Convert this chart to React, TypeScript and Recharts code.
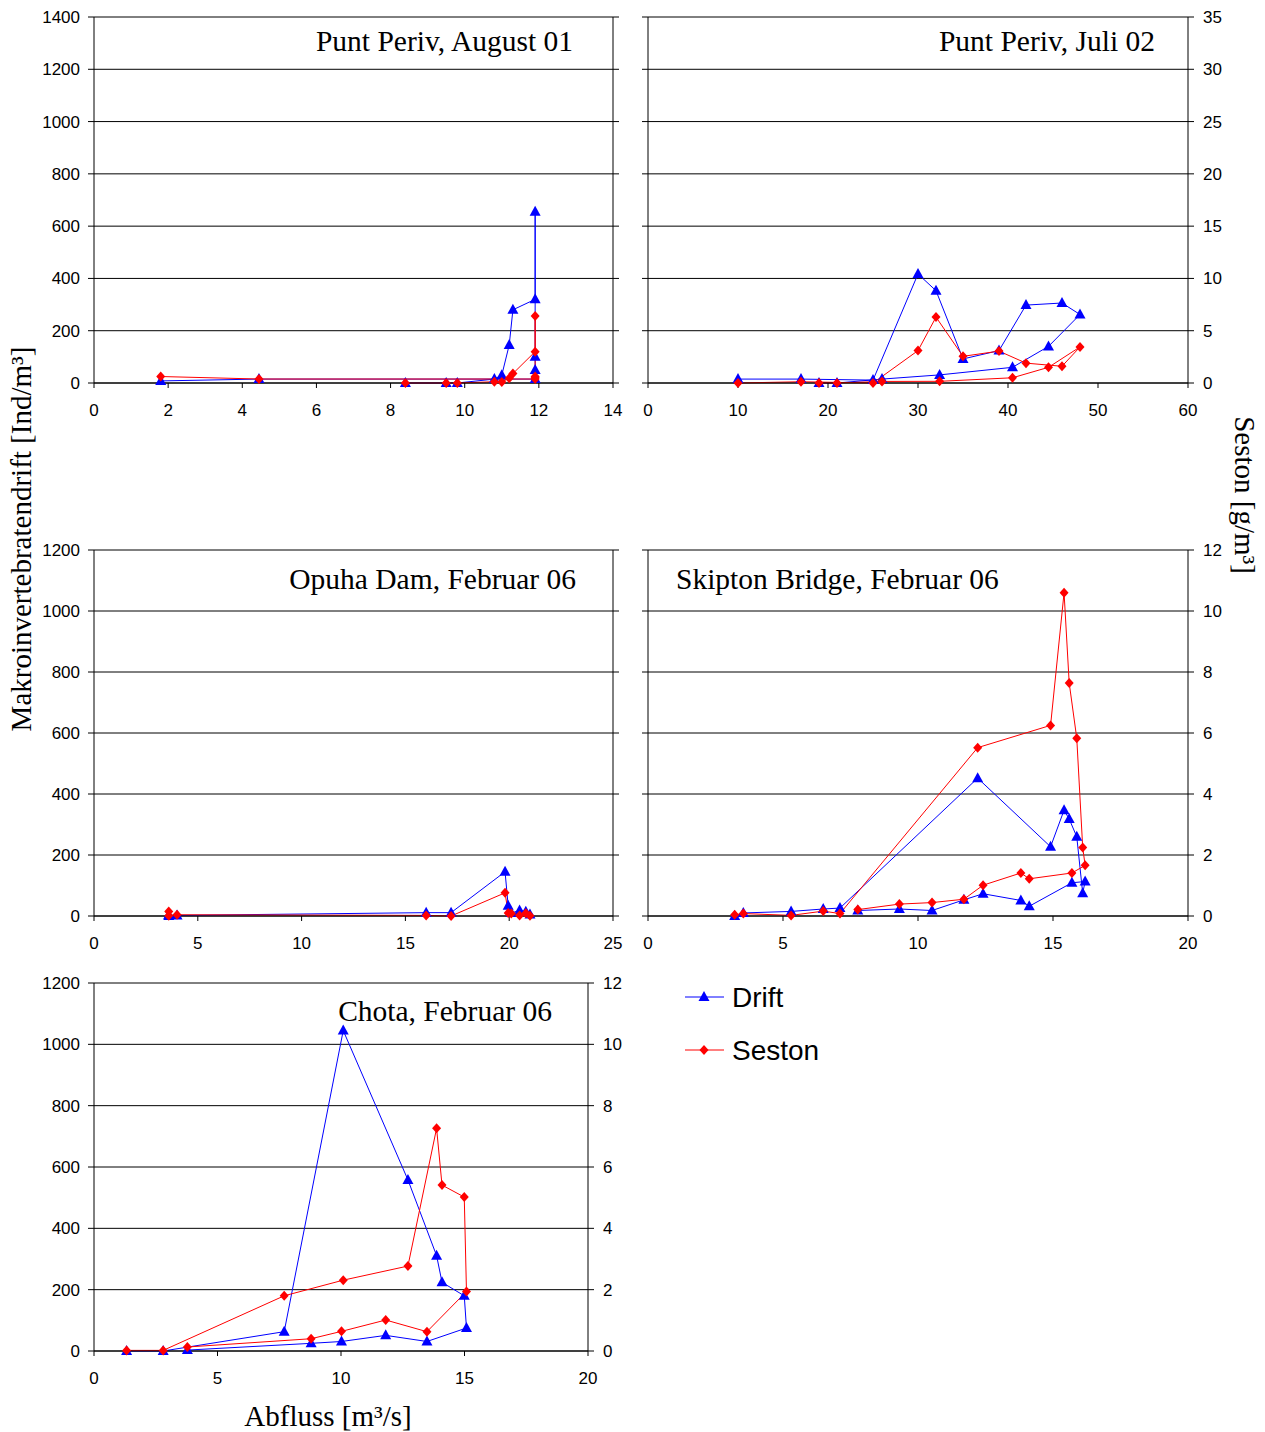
import React from 'react';
import { LineChart, Line, XAxis, YAxis, CartesianGrid } from 'recharts';

const SERIF = '"Liberation Serif", "Times New Roman", Times, serif';
const SANS = '"Liberation Sans", Arial, Helvetica, sans-serif';
const BLUE = '#0000ff';
const RED = '#ff0000';

// ---- Panel 1: Punt Periv, August 01 ----
const p1Abfluss = [1.8, 4.45, 11.9, 11.9, 11.9, 11.9, 11.9, 11.3, 11.2, 11.0, 10.8, 9.8, 9.5, 8.4];
const p1Drift = [8, 15, 15, 50, 100, 655, 320, 280, 145, 30, 15, 0, 0, 0];
const p1Seston = [0.62, 0.38, 0.38, 0.5, 0.62, 6.4, 3.0, 0.9, 0.45, 0.1, 0.12, 0, 0, 0];

// ---- Panel 2: Punt Periv, Juli 02 ----
const p2Abfluss = [10, 17, 25, 30, 32, 35, 39, 42, 46, 48, 44.5, 40.5, 32.4, 26, 21, 19];
const p2Drift = [15, 15, 11, 417, 353, 92, 124, 298, 306, 262, 140, 60, 31, 15, 0, 0];
const p2Seston = [0, 0.12, 0, 3.1, 6.3, 2.55, 3.05, 1.9, 1.6, 3.45, 1.5, 0.5, 0.16, 0.15, 0, 0];

// ---- Panel 3: Opuha Dam, Februar 06 ----
const p3Abfluss = [3.6, 3.6, 4.0, 16.0, 17.2, 19.8, 19.95, 20.1, 20.5, 20.8, 21.0];
const p3Drift = [0, 3, 2, 11, 11, 145, 34, 10, 18, 14, 5];
const p3Seston = [0.15, 0.01, 0.04, 0.02, 0, 0.76, 0.1, 0.08, 0.02, 0.09, 0.01];

// ---- Panel 4: Skipton Bridge, Februar 06 ----
const p4Abfluss = [3.21, 3.53, 5.3, 6.49, 7.11, 12.21, 14.91, 15.41, 15.6, 15.88, 16.1, 16.19, 15.7, 14.12, 13.81, 12.41, 11.7, 10.52, 9.31, 7.77];
const p4Drift = [0, 10, 15, 23, 26, 452, 227, 347, 318, 260, 75, 113, 109, 32, 51, 73, 53, 18, 23, 18];
const p4Seston = [0.04, 0.08, 0.02, 0.16, 0.08, 5.52, 6.25, 10.6, 7.64, 5.83, 2.25, 1.66, 1.41, 1.22, 1.41, 1.01, 0.55, 0.44, 0.39, 0.21];

// ---- Panel 5: Chota, Februar 06 ----
const p5Abfluss = [1.32, 2.8, 7.7, 10.09, 12.71, 13.87, 14.09, 14.99, 15.08, 13.48, 11.81, 10.02, 8.79, 3.78];
const p5Drift = [0, 0, 63, 1045, 558, 311, 224, 180, 75, 31, 51, 31, 25, 3];
const p5Seston = [0.02, 0.02, 1.8, 2.31, 2.77, 7.26, 5.41, 5.02, 1.94, 0.63, 1.01, 0.64, 0.4, 0.13];

// ---- Tick labels ----
const ticks14 = [0, 2, 4, 6, 8, 10, 12, 14];
const ticks60 = [0, 10, 20, 30, 40, 50, 60];
const ticks25 = [0, 5, 10, 15, 20, 25];
const ticks20 = [0, 5, 10, 15, 20];
const ticks1400 = [0, 200, 400, 600, 800, 1000, 1200, 1400];
const ticks1200 = [0, 200, 400, 600, 800, 1000, 1200];
const ticks35 = [0, 5, 10, 15, 20, 25, 30, 35];
const ticks12 = [0, 2, 4, 6, 8, 10, 12];

const build = (xs: number[], d: number[], s: number[]) =>
  xs.map((x, i) => ({ x, drift: d[i], seston: s[i] }));

const TriDot = (props: any) => {
  const { cx, cy, index } = props;
  if (cx == null || cy == null) return <g key={`t${index}`} />;
  return (
    <path
      key={`t${index}`}
      d={`M${cx},${cy - 6}L${cx + 5.5},${cy + 4}L${cx - 5.5},${cy + 4}Z`}
      fill={BLUE}
      stroke="none"
    />
  );
};

const DiaDot = (props: any) => {
  const { cx, cy, index } = props;
  if (cx == null || cy == null) return <g key={`d${index}`} />;
  return (
    <path
      key={`d${index}`}
      d={`M${cx},${cy - 5}L${cx + 4.5},${cy}L${cx},${cy + 5}L${cx - 4.5},${cy}Z`}
      fill={RED}
      stroke="none"
    />
  );
};

type PanelProps = {
  pl: number; pt: number; pr: number; pb: number;
  data: any[];
  xMax: number; xTicks: number[];
  lMax: number; lTicks: number[];
  rMax: number; rTicks: number[];
  leftLabels: boolean; rightLabels: boolean;
};

const LW = 70, RW = 60, XH = 40, MT = 10;
const tickStyle = { fill: '#000', fontSize: 17, fontFamily: SANS };
const blank = () => '';

function Panel(p: PanelProps) {
  const left = p.pl - LW;
  const top = p.pt - MT;
  const width = p.pr + RW - left;
  const height = p.pb + XH - top;
  return (
    <div style={{ position: 'absolute', left, top, width, height }}>
      <LineChart width={width} height={height} data={p.data} margin={{ top: MT, right: 0, bottom: 0, left: 0 }}>
        <CartesianGrid yAxisId="l" vertical={false} horizontal stroke="#000" strokeWidth={1} />
        <XAxis
          type="number" dataKey="x" domain={[0, p.xMax]} ticks={p.xTicks} interval={0}
          height={XH} tickSize={5} tickMargin={16}
          axisLine={{ stroke: '#000' }} tickLine={{ stroke: '#000' }} tick={tickStyle}
        />
        <YAxis
          yAxisId="l" orientation="left" width={LW} domain={[0, p.lMax]} ticks={p.lTicks} interval={0}
          tickSize={6} tickMargin={8}
          axisLine={{ stroke: '#000' }} tickLine={{ stroke: '#000' }} tick={tickStyle}
          tickFormatter={p.leftLabels ? undefined : blank}
        />
        <YAxis
          yAxisId="r" orientation="right" width={RW} domain={[0, p.rMax]} ticks={p.rTicks} interval={0}
          tickSize={6} tickMargin={9}
          axisLine={{ stroke: '#000' }} tickLine={{ stroke: '#000' }} tick={tickStyle}
          tickFormatter={p.rightLabels ? undefined : blank}
        />
        <Line yAxisId="l" dataKey="drift" stroke={BLUE} strokeWidth={1} dot={TriDot} activeDot={false} isAnimationActive={false} />
        <Line yAxisId="r" dataKey="seston" stroke={RED} strokeWidth={1} dot={DiaDot} activeDot={false} isAnimationActive={false} />
      </LineChart>
    </div>
  );
}

export default function App() {
  const titleStyle = { fontFamily: SERIF, fontSize: 29.5, fill: '#000' } as any;
  const labelStyle = { fontFamily: SERIF, fontSize: 29, fill: '#000' } as any;
  return (
    <div style={{ position: 'absolute', left: 0, top: 0, width: 1265, height: 1432, background: '#fff' }}>
      <Panel pl={94} pt={17} pr={613} pb={383} data={build(p1Abfluss, p1Drift, p1Seston)}
        xMax={14} xTicks={ticks14} lMax={1400} lTicks={ticks1400} rMax={35} rTicks={ticks35}
        leftLabels rightLabels={false} />
      <Panel pl={648} pt={17} pr={1188} pb={383} data={build(p2Abfluss, p2Drift, p2Seston)}
        xMax={60} xTicks={ticks60} lMax={1400} lTicks={ticks1400} rMax={35} rTicks={ticks35}
        leftLabels={false} rightLabels />
      <Panel pl={94} pt={550} pr={613} pb={916} data={build(p3Abfluss, p3Drift, p3Seston)}
        xMax={25} xTicks={ticks25} lMax={1200} lTicks={ticks1200} rMax={12} rTicks={ticks12}
        leftLabels rightLabels={false} />
      <Panel pl={648} pt={550} pr={1188} pb={916} data={build(p4Abfluss, p4Drift, p4Seston)}
        xMax={20} xTicks={ticks20} lMax={1200} lTicks={ticks1200} rMax={12} rTicks={ticks12}
        leftLabels={false} rightLabels />
      <Panel pl={94} pt={983} pr={588} pb={1351} data={build(p5Abfluss, p5Drift, p5Seston)}
        xMax={20} xTicks={ticks20} lMax={1200} lTicks={ticks1200} rMax={12} rTicks={ticks12}
        leftLabels rightLabels />
      <svg width={1265} height={1432} style={{ position: 'absolute', left: 0, top: 0, pointerEvents: 'none' }}>
        <text x={573} y={51} textAnchor="end" style={titleStyle}>Punt Periv, August 01</text>
        <text x={1155} y={51} textAnchor="end" style={titleStyle}>Punt Periv, Juli 02</text>
        <text x={576} y={589} textAnchor="end" style={titleStyle}>Opuha Dam, Februar 06</text>
        <text x={676} y={589} textAnchor="start" style={titleStyle}>Skipton Bridge, Februar 06</text>
        <text x={552} y={1021} textAnchor="end" style={titleStyle}>Chota, Februar 06</text>
        <text x={31} y={539} textAnchor="middle" transform="rotate(-90 31 539)" style={labelStyle}>Makroinvertebratendrift [Ind/m³]</text>
        <text x={1235} y={495} textAnchor="middle" transform="rotate(90 1235 495)" style={labelStyle}>Seston [g/m³]</text>
        <text x={328} y={1426} textAnchor="middle" style={labelStyle}>Abfluss [m³/s]</text>
        {/* Legend */}
        <line x1={685} y1={997} x2={724} y2={997} stroke={BLUE} strokeWidth={1} />
        <path d="M704,991L709.5,1001L698.5,1001Z" fill={BLUE} />
        <text x={732} y={1007} style={{ fontFamily: SANS, fontSize: 28, fill: '#000' }}>Drift</text>
        <line x1={685} y1={1050} x2={724} y2={1050} stroke={RED} strokeWidth={1} />
        <path d="M704,1045L708.5,1050L704,1055L699.5,1050Z" fill={RED} />
        <text x={732} y={1060} style={{ fontFamily: SANS, fontSize: 28, fill: '#000' }}>Seston</text>
      </svg>
    </div>
  );
}
